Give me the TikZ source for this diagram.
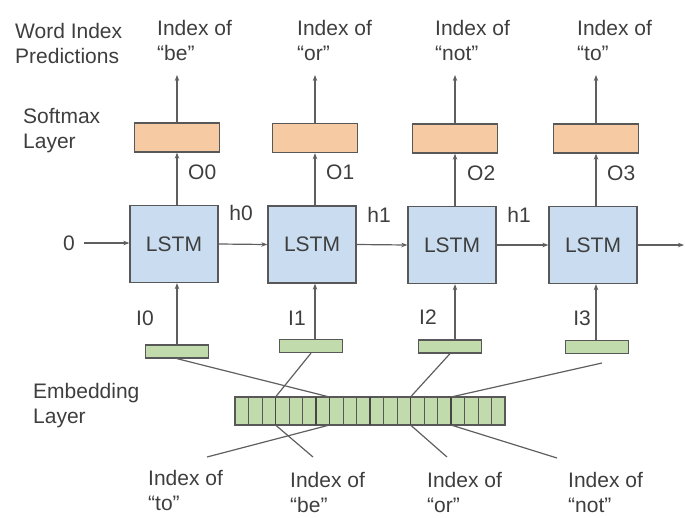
\documentclass[tikz,border=0pt]{standalone}
\usepackage{fontspec}
\setmainfont{Liberation Sans}
\usetikzlibrary{arrows.meta}
\definecolor{lstmfill}{RGB}{202,221,240}
\definecolor{softfill}{RGB}{246,202,162}
\definecolor{embfill}{RGB}{194,219,172}
\definecolor{edgec}{RGB}{88,88,88}
\definecolor{txt}{RGB}{62,62,62}
\definecolor{wire}{RGB}{95,95,95}
\begin{document}
\begin{tikzpicture}[x=1pt,y=-1pt,
  every node/.style={font=\fontsize{21}{25}\selectfont, text=txt, inner sep=0pt},
  lstmbox/.style={draw=edgec, line width=1.3pt, fill=lstmfill, minimum width=88pt, minimum height=77pt},
  softbox/.style={draw=edgec, line width=1.3pt, fill=softfill, minimum width=85pt, minimum height=29pt},
  embbox/.style={draw=edgec, line width=1.3pt, fill=embfill, minimum width=63pt, minimum height=13pt},
  barbox/.style={draw=edgec, line width=1.1pt, fill=embfill, minimum width=270pt, minimum height=28pt},
  conn/.style={draw=wire, line width=1.2pt, -{Stealth[length=6pt,width=4.5pt]}},
  wireline/.style={draw=wire, line width=1.2pt},
  cellline/.style={draw=edgec, line width=0.7pt},
  cellthick/.style={draw=edgec!80!black, line width=1.5pt},
  lbl/.style={align=left, anchor=west}]
\useasboundingbox (0,0) rectangle (685,517);

% side labels
\node[lbl] (wip) at (15,43) {Word Index\\Predictions};
\node[lbl] (sml) at (23,131) {Softmax\\Layer};
\node[lbl] (eml) at (33,406) {Embedding\\Layer};

% top labels
\node[lbl] (T0) at (157,40) {Index of\\“be”};
\node[lbl] (T1) at (297,40) {Index of\\“or”};
\node[lbl] (T2) at (435,40) {Index of\\“not”};
\node[lbl] (T3) at (577,40) {Index of\\“to”};

% softmax boxes
\node[softbox] (S0) at (177,137.5) {};
\node[softbox] (S1) at (315,138) {};
\node[softbox] (S2) at (455,138.5) {};
\node[softbox] (S3) at (596,138.5) {};

% LSTM boxes
\node[lstmbox] (L0) at (174,244) {LSTM};
\node[lstmbox] (L1) at (312,244.5) {LSTM};
\node[lstmbox] (L2) at (452,245) {LSTM};
\node[lstmbox] (L3) at (593,245) {LSTM};

% small embedding boxes
\node[embbox] (E0) at (177,351.5) {};
\node[embbox] (E1) at (311,346) {};
\node[embbox] (E2) at (450,346.5) {};
\node[embbox] (E3) at (597,347) {};

% embedding bar
\node[barbox] (B) at (370,411) {};
\foreach \k in {1,...,19} {
  \draw[cellline] (235+\k*13.5,397) -- (235+\k*13.5,425);
}
\foreach \k in {3,6,7,10,13,16} {
  \draw[cellthick] (235+\k*13.5,397) -- (235+\k*13.5,425);
}

% bottom labels
\node[lbl] (B0) at (148,490) {Index of\\“to”};
\node[lbl] (B1) at (290,492) {Index of\\“be”};
\node[lbl] (B2) at (427,492) {Index of\\“or”};
\node[lbl] (B3) at (568,492) {Index of\\“not”};

% other labels
\node (zero) at (69,243) {0};
\node (h0) at (241,213) {h0};
\node (h1) at (379,215) {h1};
\node (h2) at (519,215) {h1};
\node[anchor=west] (O0) at (188,172) {O0};
\node[anchor=west] (O1) at (326,172) {O1};
\node[anchor=west] (O2) at (467,173) {O2};
\node[anchor=west] (O3) at (607,173) {O3};
\node (I0) at (145,318) {I0};
\node (I1) at (297,318) {I1};
\node (I2) at (428,317) {I2};
\node (I3) at (582,318) {I3};

% coordinates
\coordinate (P0) at (177,75);
\coordinate (P1) at (315,75);
\coordinate (P2) at (455,75);
\coordinate (P3) at (596,75);
\coordinate (endc) at (684,245);
\coordinate (bt3) at (275.5,397);  \coordinate (bb3) at (275.5,425);
\coordinate (bt7) at (329.5,397);  \coordinate (bb7) at (329.5,425);
\coordinate (bt13) at (410.5,397); \coordinate (bb13) at (410.5,425);
\coordinate (bt16) at (451,397);   \coordinate (bb16) at (451,425);
\coordinate (r3) at (602,363);
\coordinate (q0) at (207,457);
\coordinate (q1) at (313,457);
\coordinate (q2) at (447,457);
\coordinate (q3) at (557,458);

% softmax outputs
\foreach \i in {0,1,2,3} {
  \draw[conn] (S\i.north) -- (P\i);
  \draw[conn] (L\i.north -| S\i.south) -- (S\i.south);
  \draw[conn] (E\i.north -| S\i.south) -- (L\i.south -| S\i.south);
}

% recurrent arrows
\draw[conn, shorten <=9pt] (zero.east) -- (zero.east -| L0.west);
\draw[conn] (L0.east) -- (L1.west);
\draw[conn] (L1.east) -- (L2.west);
\draw[conn] (L2.east) -- (L3.west);
\draw[conn] (L3.east) -- (endc);

% embedding lookups
\draw[wireline] (E0.south) -- (bt7);
\draw[wireline] (bb7) -- (q0);
\draw[wireline] (E1.south) -- (bt3);
\draw[wireline] (bb3) -- (q1);
\draw[wireline] (E2.south) -- (bt13);
\draw[wireline] (bb13) -- (q2);
\draw[wireline] (r3) -- (bt16);
\draw[wireline] (bb16) -- (q3);
\end{tikzpicture}
\end{document}
